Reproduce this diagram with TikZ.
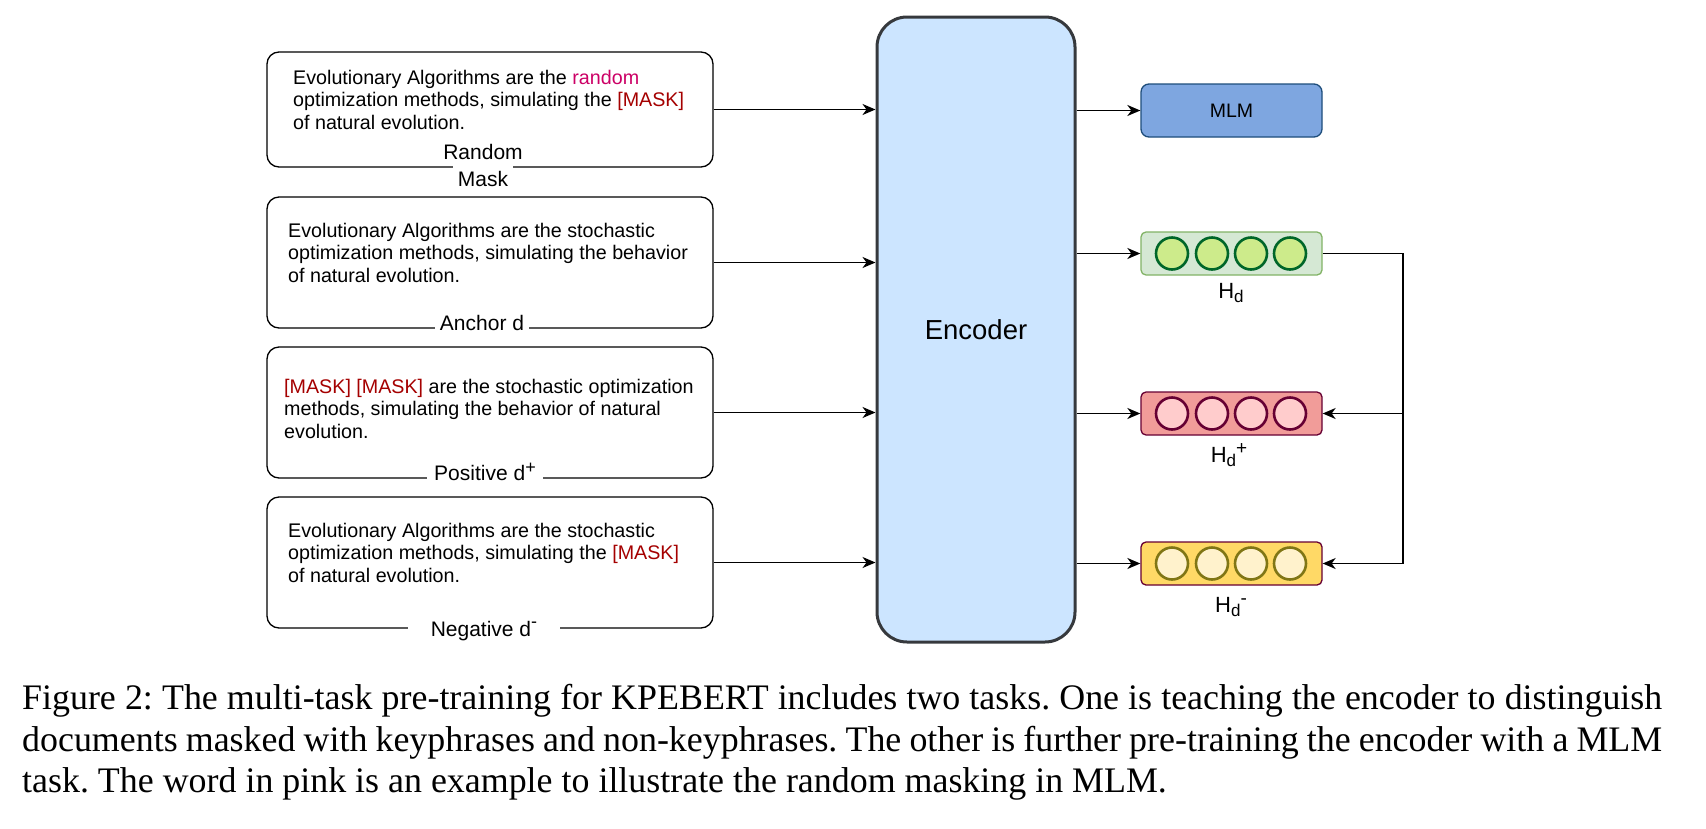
\documentclass[tikz,border=0pt]{standalone}
\usepackage{fontspec}
\setmainfont{Liberation Serif}
\newfontfamily\arialf{Liberation Sans}
\usetikzlibrary{arrows.meta}
\definecolor{pinkc}{HTML}{CC0066}
\definecolor{maskc}{HTML}{A50000}
\definecolor{encfill}{HTML}{CCE5FF}
\definecolor{encdraw}{HTML}{36393D}
\definecolor{mlmfill}{HTML}{7EA6E0}
\definecolor{mlmdraw}{HTML}{1E4D7B}
\definecolor{gfill}{HTML}{D5E8D4}
\definecolor{gdraw}{HTML}{82B366}
\definecolor{gcfill}{HTML}{CDEB8B}
\definecolor{gcdraw}{HTML}{006629}
\definecolor{rfill}{HTML}{F19C99}
\definecolor{rdraw}{HTML}{660033}
\definecolor{rcfill}{HTML}{FFCCCC}
\definecolor{yfill}{HTML}{FFD966}
\definecolor{ycfill}{HTML}{FFF2CC}
\definecolor{ycdraw}{HTML}{807615}
\newcommand\supx[2]{\raisebox{#1}{\fontsize{18}{18}\selectfont #2}}
\newcommand\hlab[1]{H\raisebox{-4pt}{\fontsize{17}{17}\selectfont d}\raisebox{8pt}{\fontsize{19}{19}\selectfont #1}}
\begin{document}
\begin{tikzpicture}[x=1pt,y=-1pt,
  docbox/.style={draw=black, line width=1.3pt, rounded corners=12pt, minimum width=446pt, inner sep=0pt},
  doctext/.style={anchor=north west, inner sep=0pt, align=left, font=\arialf\fontsize{19.7}{22.5}\selectfont},
  lab/.style={inner sep=0pt, align=center, font=\arialf\fontsize{21}{27}\selectfont},
  arr/.style={line width=1.5pt, -{Stealth[length=13pt,width=11pt,inset=4pt]}},
  hbox/.style={line width=1.3pt, rounded corners=5pt, minimum width=181pt, minimum height=43pt, inner sep=0pt},
  dot/.style={circle, line width=2.6pt, minimum size=32pt, inner sep=0pt},
  hl/.style={anchor=base, inner sep=0pt, font=\arialf\fontsize{22}{22}\selectfont},
  captext/.style={anchor=base west, inner sep=0pt, font=\frenchspacing\fontsize{35.9}{40}\selectfont}
]
\useasboundingbox (0,0) rectangle (1706,828);
\fill[white] (0,0) rectangle (1706,828);

% document boxes
\node[docbox, minimum height=115pt] (b1) at (490,109.5) {};
\node[docbox, minimum height=131pt] (b2) at (490,262.5) {};
\node[docbox, minimum height=131pt] (b3) at (490,412.5) {};
\node[docbox, minimum height=131pt] (b4) at (490,562.5) {};

\node[doctext] (t1) at (293,69.6) {Evolutionary Algorithms are the \textcolor{pinkc}{random}\\optimization methods, simulating the \textcolor{maskc}{[MASK]}\\of natural evolution.};
\node[doctext] (t2) at (288,222.6) {Evolutionary Algorithms are the stochastic\\optimization methods, simulating the behavior\\of natural evolution.};
\node[doctext] (t3) at (284,378.6) {\textcolor{maskc}{[MASK] [MASK]} are the stochastic optimization\\methods, simulating the behavior of natural\\evolution.};
\node[doctext] (t4) at (288,522.6) {Evolutionary Algorithms are the stochastic\\optimization methods, simulating the \textcolor{maskc}{[MASK]}\\of natural evolution.};

% labels on the box borders
\node[lab, anchor=north] (l1) at (483,143.7) {Random\\{\fboxsep=5pt\colorbox{white}{Mask}}};
\node[lab, anchor=base, fill=white, inner xsep=5pt, inner ysep=5pt] (l2) at (482,330) {Anchor d};
\node[lab, anchor=base, fill=white, inner xsep=7pt, inner ysep=5pt] (l3) at (485,480) {Positive d\supx{7pt}{+}};
\node[lab, anchor=base, fill=white, minimum width=152pt, inner ysep=5pt] (l4) at (484,636) {Negative d\supx{9pt}{-}};

% encoder
\node[draw=encdraw, fill=encfill, line width=3pt, rounded corners=30pt, minimum width=198pt, minimum height=625pt, inner sep=0pt, font=\arialf\fontsize{27.5}{27.5}\selectfont] (enc) at (976,329.5) {Encoder};

% MLM
\node[draw=mlmdraw, fill=mlmfill, line width=1.3pt, rounded corners=8pt, minimum width=181pt, minimum height=53pt, inner sep=0pt, font=\arialf\fontsize{19.5}{19.5}\selectfont] (mlm) at (1231.5,110.5) {MLM};

% representation boxes
\node[hbox, draw=gdraw, fill=gfill] (hd) at (1231.5,253.5) {};
\node[hbox, draw=rdraw, fill=rfill] (hdp) at (1231.5,413.5) {};
\node[hbox, draw=rdraw, fill=yfill] (hdm) at (1231.5,563.5) {};
\foreach \i/\x in {1/1172,2/1212,3/1251,4/1290}{
  \node[dot, draw=gcdraw, fill=gcfill] (g\i) at (\x,253.5) {};
  \node[dot, draw=rdraw, fill=rcfill] (r\i) at (\x,413.5) {};
  \node[dot, draw=ycdraw, fill=ycfill] (y\i) at (\x,563.5) {};
}
\node[hl] (hl1) at (1231,298) {\hlab{}};
\node[hl] (hl2) at (1229,462) {\hlab{+}};
\node[hl] (hl3) at (1231,612) {\hlab{-}};

% connectors
\draw[arr] (b1.east) -- (b1.east -| enc.west);
\draw[arr] (b2.east) -- (b2.east -| enc.west);
\draw[arr] (b3.east) -- (b3.east -| enc.west);
\draw[arr] (b4.east) -- (b4.east -| enc.west);
\draw[arr] (enc.east |- mlm.west) -- (mlm.west);
\draw[arr] (enc.east |- hd.west) -- (hd.west);
\draw[arr] (enc.east |- hdp.west) -- (hdp.west);
\draw[arr] (enc.east |- hdm.west) -- (hdm.west);
\coordinate (jr) at (1403,253.5);
\draw[arr] (hd.east) -- (jr) -- (jr |- hdm.east) -- (hdm.east);
\draw[arr] (jr |- hdp.east) -- (hdp.east);

% caption
\node[captext] (c1) at (22,709) {\makebox[1640pt][s]{Figure 2: The multi-task pre-training for KPEBERT includes two tasks. One is teaching the encoder to distinguish}};
\node[captext] (c2) at (22,751) {\makebox[1640pt][s]{documents masked with keyphrases and non-keyphrases. The other is further pre-training the encoder with a MLM}};
\node[captext] (c3) at (22,792) {task. The word in pink is an example to illustrate the random masking in MLM.};
\end{tikzpicture}
\end{document}
